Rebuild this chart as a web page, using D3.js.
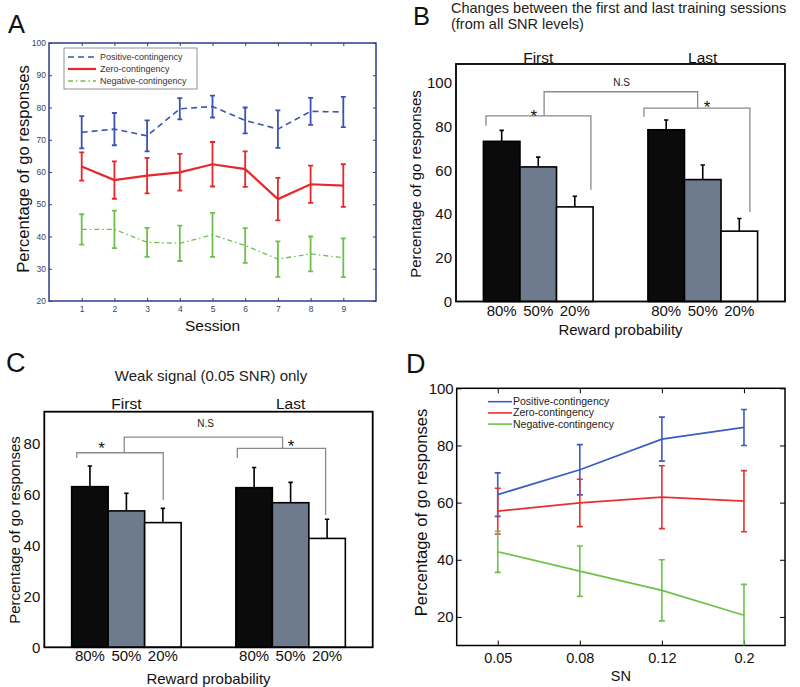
<!DOCTYPE html>
<html><head><meta charset="utf-8">
<script src="https://cdn.jsdelivr.net/npm/d3@7"></script>
<style>
body{margin:0;background:#fff;}
svg{display:block;font-family:"Liberation Sans",Arial,Helvetica,sans-serif;}
</style>
</head><body>
<svg id="c" width="800" height="687"></svg>
<script>
// ---------------- DATA ----------------
// Panel A
const sessions = [1,2,3,4,5,6,7,8,9];
const sessionTicksY = [20,30,40,50,60,70,80,90,100];
const posA = [72.3,73.3,71.2,79.6,80.3,76.0,73.3,78.8,78.6];
const posAErr = [5.0,5.0,4.8,3.3,3.4,4.0,5.8,4.2,4.7];
const zeroA = [61.7,57.5,58.9,59.9,62.4,60.9,51.6,56.2,55.8];
const zeroAErr = [4.4,5.8,5.5,5.7,6.9,5.5,6.6,5.8,6.6];
const negA = [42.2,42.2,38.2,37.9,40.5,37.2,33.0,34.6,33.4];
const negAErr = [4.7,5.8,4.5,5.5,6.8,5.4,5.5,5.4,6.0];
const seriesNames = ["Positive-contingency","Zero-contingency","Negative-contingency"];

// Panels B and C
const rewardLabels = ["80%","50%","20%"];
const groupLabels = ["First","Last"];
const allFirst = [73.3,61.6,43.3];
const allFirstErr = [5.0,4.5,4.9];
const allLast = [78.6,55.8,32.2];
const allLastErr = [4.5,6.7,5.8];
const allTicks = [0,20,40,60,80,100];
const weakFirst = [63.0,53.5,48.9];
const weakFirstErr = [8.1,6.9,5.6];
const weakLast = [62.6,56.7,42.7];
const weakLastErr = [7.9,8.0,7.5];
const weakTicks = [0,20,40,60,80];

// Panel D
const snLabels = ["0.05","0.08","0.12","0.2"];
const posD = [62.8,71.5,82.2,86.3];
const posDErr = [7.6,8.8,7.7,6.3];
const zeroD = [57.0,59.9,61.9,60.5];
const zeroDErr = [8.0,8.3,11.0,10.7];
const negD = [42.8,36.0,29.3,20.6];
const negDErr = [7.2,8.8,10.7,10.8];
const dTicks = [20,40,60,80,100];

// ---------------- DRAW ----------------
const svg = d3.select("#c");
const FONT = '"Liberation Sans",Arial,Helvetica,sans-serif';

function txt(g, x, y, s, size, opts={}) {
  const t = g.append("text").attr("x",x).attr("y",y).text(s)
    .attr("font-size",size).attr("fill",opts.fill||"#111")
    .attr("text-anchor",opts.anchor||"start");
  if (opts.rotate) t.attr("transform",`rotate(-90,${x},${y})`);
  return t;
}
function styleAxis(sel, color, textColor, size) {
  sel.select(".domain").remove();
  sel.selectAll(".tick line").attr("stroke",color).attr("stroke-width",1);
  sel.selectAll(".tick text").attr("fill",textColor).attr("font-size",size).attr("font-family",FONT);
}

// ===== Panel A =====
(function(){
  const box = {x0:49,x1:376,y0:43,y1:301};
  const x = d3.scaleLinear().domain([0,10]).range([box.x0,box.x1]);
  const y = d3.scaleLinear().domain([20,100]).range([box.y1,box.y0]);
  const g = svg.append("g");
  const navy = "#2e3b8e", tcol = "#3c3f60";
  const tl = 3;
  g.append("g").attr("transform",`translate(${box.x0},0)`)
    .call(d3.axisLeft(y).tickValues(sessionTicksY).tickSizeInner(-tl).tickSizeOuter(0).tickPadding(3))
    .call(s=>styleAxis(s,navy,tcol,8.5));
  g.append("g").attr("transform",`translate(${box.x1},0)`)
    .call(d3.axisRight(y).tickValues(sessionTicksY).tickSizeInner(-tl).tickSizeOuter(0).tickFormat(""))
    .call(s=>styleAxis(s,navy,tcol,8.5));
  g.append("g").attr("transform",`translate(0,${box.y1})`)
    .call(d3.axisBottom(x).tickValues(sessions).tickSizeInner(-tl).tickSizeOuter(0).tickPadding(5))
    .call(s=>styleAxis(s,navy,tcol,8.5));
  g.append("g").attr("transform",`translate(0,${box.y0})`)
    .call(d3.axisTop(x).tickValues(sessions).tickSizeInner(-tl).tickSizeOuter(0).tickFormat(""))
    .call(s=>styleAxis(s,navy,tcol,8.5));
  g.append("rect").attr("x",box.x0).attr("y",box.y0).attr("width",box.x1-box.x0).attr("height",box.y1-box.y0)
    .attr("fill","none").attr("stroke",navy).attr("stroke-width",1.5);

  const series = [
    {v:posA,e:posAErr,c:"#3a55b0",dash:"6,4",w:1.6},
    {v:zeroA,e:zeroAErr,c:"#e8262b",dash:null,w:2.2},
    {v:negA,e:negAErr,c:"#6fc04a",dash:"5,3,1.5,3",w:1.3}
  ];
  series.forEach(s=>{
    const line = d3.line().x((d,i)=>x(sessions[i])).y(d=>y(d));
    g.append("path").datum(s.v).attr("d",line).attr("fill","none")
      .attr("stroke",s.c).attr("stroke-width",s.w).attr("stroke-dasharray",s.dash);
    s.v.forEach((v,i)=>{
      const cx = x(sessions[i]), t=y(v+s.e[i]), b=y(v-s.e[i]);
      g.append("path").attr("d",`M${cx},${t}V${b}M${cx-2.5},${t}H${cx+2.5}M${cx-2.5},${b}H${cx+2.5}`)
        .attr("stroke",s.c).attr("stroke-width",1.8).attr("fill","none");
    });
  });
  // legend
  const lg = g.append("g");
  lg.append("rect").attr("x",64).attr("y",48).attr("width",133).attr("height",41)
    .attr("fill","#fff").attr("stroke","#777").attr("stroke-width",0.8);
  series.forEach((s,i)=>{
    const ly = 57 + i*12;
    lg.append("line").attr("x1",68).attr("x2",96).attr("y1",ly).attr("y2",ly)
      .attr("stroke",s.c).attr("stroke-width",s.w).attr("stroke-dasharray",s.dash);
    txt(lg,100,ly+3.2,seriesNames[i],9,{fill:"#333"});
  });
  txt(g,8,33,"A",25.5);
  txt(g,28.6,169,"Percentage of go responses",16.6,{anchor:"middle",rotate:true});
  txt(g,(box.x0+box.x1)/2+0,330.5,"Session",15.5,{anchor:"middle"});
})();

// ===== Bar panels B and C =====
function barPanel(p){
  const g = svg.append("g");
  const box = p.box;
  const x = d3.scaleLinear().domain([-1.25,7.75]).range([box.x0,box.x1]);
  const y = d3.scaleLinear().domain([0,p.yTop]).range([box.y1,box.y0]);
  const fills = ["#0b0b0b","#6e7a8e","#ffffff"];
  const groups = [{vals:p.first,errs:p.firstErr},{vals:p.last,errs:p.lastErr}];
  const pos = (gi,i)=> gi*4.5 + i;
  groups.forEach((gr,gi)=>{
    gr.vals.forEach((v,i)=>{
      const c = pos(gi,i);
      g.append("rect").attr("x",x(c-0.5)).attr("y",y(v)).attr("width",x(c+0.5)-x(c-0.5))
        .attr("height",y(0)-y(v)).attr("fill",fills[i]).attr("stroke","#000").attr("stroke-width",1.6);
    });
  });
  groups.forEach((gr,gi)=>{
    gr.vals.forEach((v,i)=>{
      const cx = x(pos(gi,i)), t = y(v+gr.errs[i]);
      g.append("path").attr("d",`M${cx},${y(v)}V${t}M${cx-2.2},${t}H${cx+2.2}`)
        .attr("stroke","#000").attr("stroke-width",1.6).attr("fill","none");
      txt(g,cx,p.xLabY,rewardLabels[i],15,{anchor:"middle"});
    });
    txt(g,x(pos(gi,1)),p.groupY,groupLabels[gi],15.5,{anchor:"middle"});
  });
  p.brackets.forEach(br=>{
    const line = d3.line().x(d=>x(d[0])).y(d=>y(d[1]));
    g.append("path").attr("d",line(br)).attr("fill","none").attr("stroke","#8a8a8a").attr("stroke-width",1.3);
  });
  p.stars.forEach(s=>txt(g,x(s[0]),y(s[1])+10,"*",17,{anchor:"middle"}));
  txt(g,x(p.ns[0]),y(p.ns[1])+3.5,"N.S",10,{anchor:"middle",fill:"#222"});
  g.append("g").attr("transform",`translate(${box.x0},0)`)
    .call(d3.axisLeft(y).tickValues(p.ticks).tickSize(0).tickPadding(4))
    .call(s=>styleAxis(s,"#000","#111",15));
  g.append("rect").attr("x",box.x0).attr("y",box.y0).attr("width",box.x1-box.x0).attr("height",box.y1-box.y0)
    .attr("fill","none").attr("stroke","#000").attr("stroke-width",1.8);
  txt(g,p.yLabX,p.yLabY,"Percentage of go responses",15,{anchor:"middle",rotate:true});
  txt(g,(box.x0+box.x1)/2,p.rpY,"Reward probability",15,{anchor:"middle"});
  return g;
}

const gB = barPanel({
  box:{x0:456,x1:785,y0:64,y1:301.5}, yTop:108.7, ticks:allTicks,
  first:allFirst, firstErr:allFirstErr, last:allLast, lastErr:allLastErr,
  brackets:[
    [[-0.43,80.4],[-0.43,85.0],[2.44,85.0],[2.44,51.1]],
    [[3.89,84.6],[3.89,88.5],[6.79,88.5],[6.79,41.0]],
    [[1.16,85.0],[1.16,96.0],[5.36,96.0],[5.36,88.5]]
  ],
  stars:[[0.88,86.8],[5.62,91.0]], ns:[3.28,100.1],
  xLabY:315.5, groupY:63, rpY:335, yLabX:421, yLabY:184
});
txt(gB,413,25,"B",25.5);
txt(gB,451,13,"Changes between the first and last training sessions",14.5,{fill:"#222"});
txt(gB,451,29,"(from all SNR levels)",14.5,{fill:"#222"});

const gC = barPanel({
  box:{x0:44.3,x1:372.7,y0:411.7,y1:647.3}, yTop:92.4, ticks:weakTicks,
  first:weakFirst, firstErr:weakFirstErr, last:weakLast, lastErr:weakLastErr,
  brackets:[
    [[-0.36,74.2],[-0.36,76.3],[2.01,76.3],[2.01,57.8]],
    [[4.04,74.2],[4.04,78.0],[6.46,78.0],[6.46,51.9]],
    [[0.94,76.3],[0.94,82.4],[5.28,82.4],[5.28,78.0]]
  ],
  stars:[[0.32,79.7],[5.51,80.6]], ns:[3.17,87.6],
  xLabY:660.5, groupY:409, rpY:684, yLabX:19.5, yLabY:530
});
txt(gC,6,372,"C",27);
txt(gC,211,380.5,"Weak signal (0.05 SNR) only",15,{anchor:"middle",fill:"#222"});

// ===== Panel D =====
(function(){
  const box = {x0:456.7,x1:785,y0:388.3,y1:645.5};
  const x = d3.scalePoint().domain(snLabels).range([box.x0,box.x1]).padding(0.5);
  const y = d3.scaleLinear().domain([10,100]).range([box.y1,box.y0]);
  const g = svg.append("g");
  const tl = 5;
  g.append("g").attr("transform",`translate(${box.x0},0)`)
    .call(d3.axisLeft(y).tickValues(dTicks).tickSizeInner(-tl).tickSizeOuter(0).tickPadding(3))
    .call(s=>styleAxis(s,"#000","#111",15));
  g.append("g").attr("transform",`translate(${box.x1},0)`)
    .call(d3.axisRight(y).tickValues(dTicks).tickSizeInner(-tl).tickSizeOuter(0).tickFormat(""))
    .call(s=>styleAxis(s,"#000","#111",15));
  g.append("g").attr("transform",`translate(0,${box.y1})`)
    .call(d3.axisBottom(x).tickSizeInner(-tl).tickSizeOuter(0).tickPadding(7))
    .call(s=>styleAxis(s,"#000","#111",14.5));
  g.append("g").attr("transform",`translate(0,${box.y0})`)
    .call(d3.axisTop(x).tickSizeInner(-tl).tickSizeOuter(0).tickFormat(""))
    .call(s=>styleAxis(s,"#000","#111",14.5));
  g.append("rect").attr("x",box.x0).attr("y",box.y0).attr("width",box.x1-box.x0).attr("height",box.y1-box.y0)
    .attr("fill","none").attr("stroke","#000").attr("stroke-width",1.5);

  const series = [
    {v:posD,e:posDErr,c:"#3a5cc4"},
    {v:zeroD,e:zeroDErr,c:"#e83030"},
    {v:negD,e:negDErr,c:"#6cc24a"}
  ];
  const lo = y.domain()[0];
  series.forEach(s=>{
    s.v.forEach((v,i)=>{
      const cx = x(snLabels[i]), t=y(v+s.e[i]), bv = v-s.e[i], b=y(Math.max(bv,lo));
      let d = `M${cx},${t}V${b}M${cx-3},${t}H${cx+3}`;
      if (bv>=lo) d += `M${cx-3},${b}H${cx+3}`;
      g.append("path").attr("d",d).attr("stroke",s.c).attr("stroke-width",1.6).attr("fill","none");
    });
  });
  series.forEach(s=>{
    const line = d3.line().x((d,i)=>x(snLabels[i])).y(d=>y(d));
    g.append("path").datum(s.v).attr("d",line).attr("fill","none").attr("stroke",s.c).attr("stroke-width",1.7);
  });
  series.forEach((s,i)=>{
    const ly = 401.7 + i*11.2;
    g.append("line").attr("x1",488).attr("x2",512).attr("y1",ly).attr("y2",ly).attr("stroke",s.c).attr("stroke-width",1.6);
    txt(g,513,ly+3.5,seriesNames[i],10.5,{fill:"#222"});
  });
  txt(g,406,373,"D",27);
  txt(g,427,512.5,"Percentage of go responses",16.6,{anchor:"middle",rotate:true});
  txt(g,(box.x0+box.x1)/2,680.5,"SN",14.5,{anchor:"middle"});
})();
</script>
</body></html>
